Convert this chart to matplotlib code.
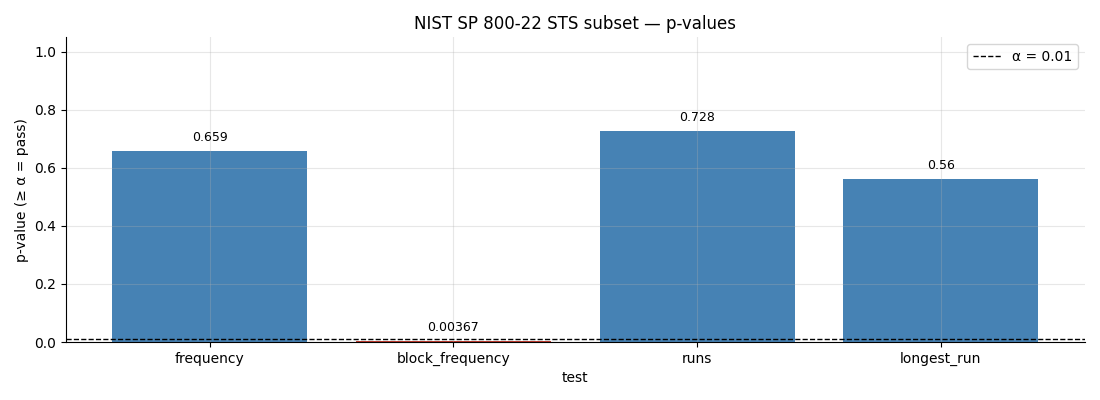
import numpy as np
import matplotlib
matplotlib.use("Agg")
from matplotlib import pyplot as plt

tests = ["frequency", "block_frequency", "runs", "longest_run"]
pvals = [0.659, 0.00367, 0.728, 0.56]
labels = ["0.659", "0.00367", "0.728", "0.56"]
alpha = 0.01

colors = ["steelblue" if p >= alpha else "#c0392b" for p in pvals]

fig, ax = plt.subplots(figsize=(11, 4), dpi=100)
x = np.arange(len(tests))
bars = ax.bar(x, pvals, color=colors, width=0.8)
ax.axhline(alpha, color="black", linestyle="--", linewidth=1, label="α = 0.01")
for b, t in zip(bars, labels):
    ax.annotate(t, (b.get_x() + b.get_width() / 2, b.get_height()),
                xytext=(0, 5), textcoords="offset points",
                ha="center", va="bottom", fontsize=9)

ax.set_xticks(x)
ax.set_xticklabels(tests)
ax.set_ylim(0, 1.05)
ax.set_xlim(-0.59, 3.59)
ax.set_xlabel("test")
ax.set_ylabel("p-value (≥ α = pass)")
ax.set_title("NIST SP 800-22 STS subset — p-values")
ax.grid(True, alpha=0.3)
ax.spines["top"].set_visible(False)
ax.spines["right"].set_visible(False)
ax.legend(loc="upper right")

plt.subplots_adjust(left=0.06, right=0.986, top=0.907, bottom=0.145)
plt.savefig("out.png")
